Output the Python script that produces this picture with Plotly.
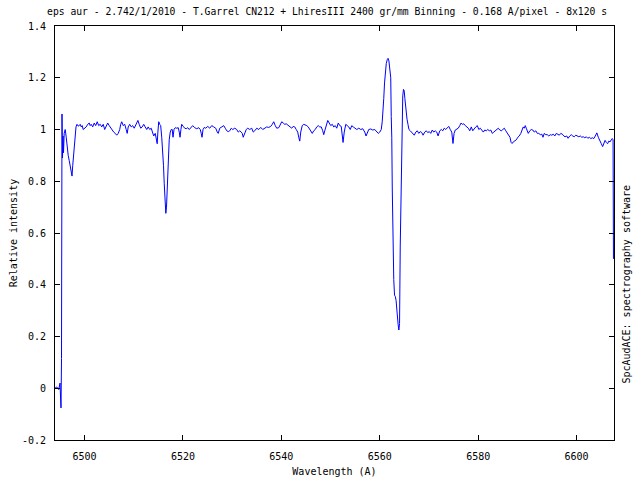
import plotly.graph_objects as go

title_text = "eps aur - 2.742/1/2010 - T.Garrel CN212 + LhiresIII 2400 gr/mm Binning - 0.168 A/pixel - 8x120 s"
x_title = "Wavelength (A)"
y_title = "Relative intensity"
side_text = "SpcAudACE: spectrography software"

x_tick_vals = [6500, 6520, 6540, 6560, 6580, 6600]
x_tick_text = ["6500", "6520", "6540", "6560", "6580", "6600"]
y_tick_vals = [-0.2, 0, 0.2, 0.4, 0.6, 0.8, 1.0, 1.2, 1.4]
y_tick_text = ["-0.2", "0", "0.2", "0.4", "0.6", "0.8", "1", "1.2", "1.4"]

wavelength = [
    6494.00, 6494.35, 6494.75, 6495.02, 6495.12, 6495.22, 6495.32, 6495.42, 6495.52, 6495.63,
    6495.73, 6495.87, 6496.07, 6496.28, 6496.48, 6496.68, 6496.89, 6497.09, 6497.25, 6497.46,
    6497.60, 6497.76, 6497.90, 6498.07, 6498.27, 6498.47, 6498.72, 6498.92, 6499.12, 6499.33,
    6499.53, 6499.73, 6500.04, 6500.34, 6500.65, 6500.95, 6501.15, 6501.36, 6501.66, 6501.97,
    6502.27, 6502.58, 6502.88, 6503.19, 6503.49, 6503.80, 6504.10, 6504.41, 6504.71, 6505.02,
    6505.32, 6505.63, 6505.93, 6506.24, 6506.54, 6506.85, 6507.15, 6507.35, 6507.56, 6507.86,
    6508.17, 6508.47, 6508.67, 6508.88, 6509.18, 6509.49, 6509.79, 6510.10, 6510.40, 6510.65,
    6510.85, 6511.11, 6511.42, 6511.72, 6512.03, 6512.33, 6512.64, 6512.94, 6513.25, 6513.55,
    6513.76, 6514.06, 6514.37, 6514.57, 6514.77, 6514.91, 6515.08, 6515.28, 6515.48, 6515.69,
    6515.89, 6516.05, 6516.20, 6516.36, 6516.52, 6516.66, 6516.78, 6516.91, 6517.07, 6517.21,
    6517.42, 6517.62, 6517.82, 6517.98, 6518.19, 6518.43, 6518.74, 6519.04, 6519.25, 6519.41,
    6519.59, 6519.75, 6520.06, 6520.36, 6520.67, 6520.97, 6521.28, 6521.58, 6521.99, 6522.39,
    6522.80, 6523.21, 6523.52, 6523.72, 6523.88, 6524.08, 6524.33, 6524.63, 6525.04, 6525.45,
    6525.85, 6526.26, 6526.67, 6526.97, 6527.17, 6527.48, 6527.89, 6528.29, 6528.60, 6528.90,
    6529.21, 6529.51, 6529.82, 6530.12, 6530.53, 6530.93, 6531.24, 6531.54, 6531.85, 6532.05,
    6532.25, 6532.56, 6532.86, 6533.17, 6533.57, 6533.98, 6534.29, 6534.59, 6535.00, 6535.40,
    6535.81, 6536.21, 6536.62, 6537.03, 6537.43, 6537.84, 6538.15, 6538.45, 6538.76, 6539.06,
    6539.47, 6539.87, 6540.08, 6540.38, 6540.69, 6540.99, 6541.30, 6541.70, 6542.11, 6542.41,
    6542.72, 6543.02, 6543.33, 6543.53, 6543.74, 6543.94, 6544.24, 6544.55, 6544.86, 6545.16,
    6545.46, 6545.77, 6546.07, 6546.28, 6546.58, 6546.89, 6547.19, 6547.50, 6547.80, 6548.11,
    6548.41, 6548.61, 6548.82, 6549.12, 6549.43, 6549.73, 6550.04, 6550.34, 6550.65, 6550.95,
    6551.26, 6551.56, 6551.87, 6552.17, 6552.38, 6552.54, 6552.78, 6553.09, 6553.39, 6553.70,
    6554.00, 6554.31, 6554.61, 6554.92, 6555.33, 6555.73, 6556.14, 6556.54, 6556.95, 6557.21,
    6557.46, 6557.76, 6558.17, 6558.57, 6558.98, 6559.39, 6559.69, 6560.00, 6560.30, 6560.50,
    6560.67, 6560.81, 6560.97, 6561.13, 6561.32, 6561.52, 6561.68, 6561.86, 6562.07, 6562.23,
    6562.33, 6562.44, 6562.54, 6562.68, 6562.84, 6563.00, 6563.15, 6563.31, 6563.45, 6563.60,
    6563.74, 6563.88, 6564.02, 6564.16, 6564.27, 6564.39, 6564.53, 6564.67, 6564.82, 6564.96,
    6565.10, 6565.24, 6565.38, 6565.54, 6565.73, 6565.93, 6566.20, 6566.50, 6566.81, 6567.01,
    6567.32, 6567.62, 6567.93, 6568.23, 6568.54, 6568.80, 6569.14, 6569.45, 6569.75, 6570.06,
    6570.36, 6570.67, 6570.97, 6571.28, 6571.58, 6571.85, 6572.19, 6572.50, 6572.80, 6573.11,
    6573.41, 6573.72, 6574.02, 6574.33, 6574.63, 6574.88, 6575.10, 6575.34, 6575.65, 6575.95,
    6576.26, 6576.52, 6576.77, 6577.07, 6577.38, 6577.68, 6577.99, 6578.29, 6578.60, 6578.90,
    6579.21, 6579.51, 6579.82, 6580.12, 6580.43, 6580.73, 6581.04, 6581.34, 6581.65, 6581.95,
    6582.26, 6582.56, 6582.87, 6583.17, 6583.48, 6583.78, 6584.09, 6584.39, 6584.70, 6585.00,
    6585.31, 6585.61, 6585.92, 6586.22, 6586.46, 6586.69, 6586.89, 6587.13, 6587.44, 6587.74,
    6588.05, 6588.35, 6588.66, 6588.96, 6589.16, 6589.37, 6589.57, 6589.77, 6589.98, 6590.18,
    6590.49, 6590.79, 6591.10, 6591.40, 6591.71, 6592.01, 6592.32, 6592.62, 6592.93, 6593.17,
    6593.43, 6593.73, 6594.04, 6594.35, 6594.65, 6594.96, 6595.26, 6595.57, 6595.87, 6596.18,
    6596.48, 6596.79, 6597.09, 6597.40, 6597.66, 6598.00, 6598.27, 6598.61, 6598.92, 6599.22,
    6599.53, 6599.83, 6600.14, 6600.45, 6600.75, 6601.06, 6601.36, 6601.67, 6601.97, 6602.28,
    6602.58, 6602.89, 6603.19, 6603.50, 6603.80, 6604.11, 6604.41, 6604.72, 6605.02, 6605.29,
    6605.53, 6605.79, 6606.04, 6606.30, 6606.54, 6606.80, 6607.04, 6607.25, 6607.41, 6607.49,
]

intensity = [
    0.000, 0.005, -0.005, 0.020, -0.030, -0.076, 0.115, 1.060, 0.890, 0.975,
    0.910, 0.985, 1.000, 0.970, 0.930, 0.900, 0.880, 0.860, 0.835, 0.820,
    0.860, 0.900, 0.950, 0.990, 1.010, 1.020, 1.013, 1.015, 1.020, 1.010,
    1.015, 1.000, 1.005, 1.010, 1.020, 1.025, 1.015, 1.020, 1.010, 1.025,
    1.015, 1.030, 1.015, 1.020, 1.010, 1.020, 1.000, 1.010, 1.025, 1.015,
    1.005, 1.000, 0.990, 0.985, 0.978, 0.985, 1.000, 1.020, 1.030, 1.015,
    1.020, 1.000, 0.985, 1.010, 1.020, 1.010, 1.015, 1.005, 1.020, 1.025,
    1.035, 1.020, 1.005, 1.010, 1.020, 1.010, 1.000, 1.010, 1.000, 1.005,
    0.990, 0.975, 0.985, 0.960, 0.945, 0.990, 1.030, 1.020, 1.015, 0.970,
    0.920, 0.860, 0.790, 0.730, 0.676, 0.700, 0.760, 0.850, 0.910, 0.960,
    0.990, 1.000, 1.000, 0.970, 1.000, 1.007, 1.005, 1.007, 0.990, 0.970,
    1.000, 1.020, 1.012, 1.005, 1.003, 1.007, 1.000, 1.005, 1.015, 1.007,
    1.003, 1.007, 1.000, 0.985, 0.970, 1.000, 1.008, 1.005, 1.012, 1.005,
    1.015, 1.010, 1.005, 0.990, 0.985, 1.005, 1.012, 1.015, 1.005, 0.995,
    0.992, 0.995, 1.005, 1.000, 1.005, 1.000, 0.990, 0.995, 0.990, 0.985,
    0.970, 0.990, 1.000, 1.005, 1.000, 1.005, 0.990, 0.995, 1.005, 1.000,
    1.008, 1.000, 1.005, 1.010, 1.008, 1.012, 1.020, 1.030, 1.015, 1.005,
    1.007, 1.020, 1.030, 1.025, 1.020, 1.022, 1.018, 1.010, 1.005, 1.012,
    1.010, 1.000, 0.990, 0.970, 0.955, 0.990, 1.015, 1.020, 1.018, 1.015,
    1.010, 1.000, 0.990, 0.985, 0.995, 1.000, 1.010, 1.015, 1.010, 1.010,
    0.995, 0.980, 0.995, 1.018, 1.035, 1.025, 1.015, 1.020, 1.010, 1.015,
    1.005, 1.025, 1.015, 1.012, 0.980, 0.950, 0.990, 1.020, 1.015, 1.010,
    1.000, 1.015, 1.010, 1.005, 1.000, 1.005, 1.000, 1.003, 0.990, 0.975,
    0.990, 1.000, 1.002, 0.998, 1.000, 0.990, 0.985, 0.990, 1.000, 1.030,
    1.070, 1.120, 1.180, 1.220, 1.255, 1.270, 1.275, 1.265, 1.230, 1.200,
    1.050, 0.970, 0.770, 0.570, 0.420, 0.360, 0.355, 0.340, 0.300, 0.270,
    0.245, 0.225, 0.250, 0.550, 0.690, 0.960, 1.080, 1.130, 1.155, 1.150,
    1.120, 1.090, 1.060, 1.040, 1.020, 1.000, 0.995, 0.990, 0.985, 0.978,
    0.990, 0.995, 0.985, 0.992, 0.988, 0.978, 0.990, 0.995, 0.988, 0.992,
    0.985, 0.998, 0.990, 0.995, 0.990, 0.975, 0.995, 1.000, 0.995, 1.005,
    1.000, 1.005, 1.012, 1.000, 0.990, 0.946, 0.985, 0.998, 1.000, 1.005,
    1.015, 1.025, 1.020, 1.022, 1.015, 1.010, 1.005, 0.995, 1.010, 0.995,
    1.005, 1.010, 1.015, 1.000, 1.005, 0.995, 0.990, 0.998, 0.995, 1.000,
    0.995, 0.998, 0.985, 0.990, 0.995, 1.000, 1.005, 0.998, 0.995, 1.000,
    1.005, 0.995, 0.985, 0.980, 0.970, 0.950, 0.946, 0.952, 0.955, 0.960,
    0.970, 0.975, 0.985, 0.998, 1.010, 1.005, 1.015, 1.005, 0.990, 0.985,
    0.995, 1.000, 0.998, 0.990, 0.995, 0.985, 0.985, 0.980, 0.982, 0.970,
    0.985, 0.980, 0.980, 0.975, 0.980, 0.978, 0.982, 0.975, 0.985, 0.982,
    0.978, 0.985, 0.982, 0.975, 0.972, 0.975, 0.966, 0.975, 0.980, 0.975,
    0.972, 0.978, 0.975, 0.972, 0.975, 0.970, 0.972, 0.968, 0.972, 0.966,
    0.970, 0.965, 0.968, 0.965, 0.975, 0.987, 0.970, 0.960, 0.945, 0.934,
    0.950, 0.958, 0.950, 0.945, 0.955, 0.952, 0.960, 0.965, 0.960, 0.500,
]

FONT = "DejaVu Sans Mono"

fig = go.Figure()
fig.add_trace(go.Scatter(
    x=wavelength, y=intensity, mode="lines",
    line=dict(color="#0000ff", width=1),
    showlegend=False, hoverinfo="skip",
))

axis_common = dict(
    showgrid=False, zeroline=False, showline=True, linecolor="black", linewidth=1,
    mirror="allticks", ticks="inside", ticklen=5, tickcolor="black", tickwidth=1,
    tickfont=dict(family=FONT, size=10, color="black"), automargin=False,
)

fig.update_layout(
    width=640, height=480,
    margin=dict(l=55, r=26, t=26, b=40),
    paper_bgcolor="white", plot_bgcolor="white",
    font=dict(family=FONT, size=10, color="black"),
    title=dict(text=title_text, x=0.511, xanchor="center", y=0.975, yanchor="middle",
               font=dict(family=FONT, size=9.7, color="black"), automargin=False),
    xaxis=dict(range=[6494.0, 6607.6], tickvals=x_tick_vals, ticktext=x_tick_text,
               ticklabelstandoff=7,
               title=dict(text=x_title, standoff=6, font=dict(family=FONT, size=10)),
               **axis_common),
    yaxis=dict(range=[-0.2, 1.4], tickvals=y_tick_vals, ticktext=y_tick_text,
               ticklabelstandoff=6,
               title=dict(text=y_title, standoff=2, font=dict(family=FONT, size=10)),
               **axis_common),
    annotations=[dict(
        text=side_text, xref="paper", yref="paper", x=1.0227, y=0.377,
        xanchor="center", yanchor="middle", textangle=-90, showarrow=False,
        font=dict(family=FONT, size=10, color="black"),
    )],
)

fig.write_html("out.html", config={"displayModeBar": False},
               post_script="document.body.style.margin='0';")
